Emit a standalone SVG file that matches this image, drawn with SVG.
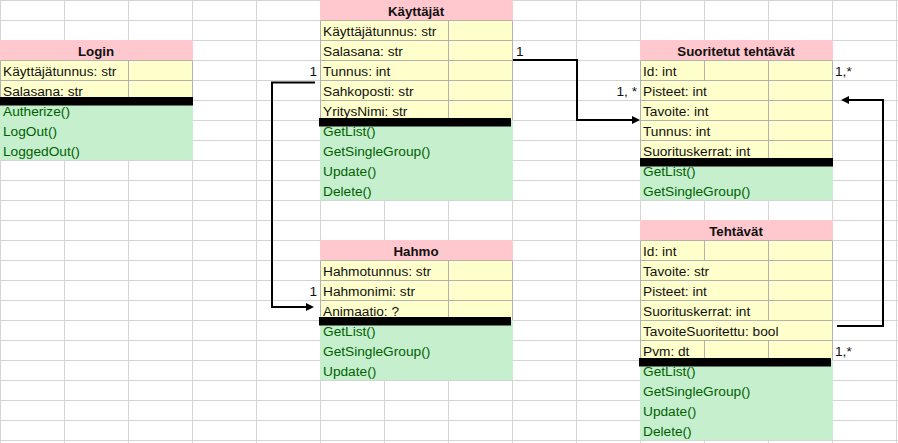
<svg xmlns="http://www.w3.org/2000/svg" width="898" height="443" viewBox="0 0 898 443">
<defs>
<style>
.grid{stroke:#d4d4d4;stroke-width:1;fill:none}
.hdr{fill:#ffc7ce}
.attr{fill:#ffffcc}
.cellb{stroke:#b2b2b2;stroke-width:1;fill:none}
.meth{fill:#c6efce}
.bar{fill:#000}
text{font-family:"Liberation Sans",Arial,sans-serif;font-size:13.7px}
.t{font-weight:bold;font-size:13.3px;text-anchor:middle;fill:#111}
.a{fill:#111}
.m{fill:#006100}
.lbl{fill:#111}
.r{text-anchor:end}
.conn{stroke:#000;stroke-width:2;fill:none;stroke-linejoin:miter}
</style>
<marker id="arr" markerWidth="8" markerHeight="8" refX="2" refY="4" orient="auto" markerUnits="userSpaceOnUse"><path d="M0,0 L8,4 L0,8 z" fill="#000"/></marker>
</defs>
<rect x="0" y="0" width="898" height="443" fill="#fff"/>
<path class="grid" d="M0.5 0V443M64.5 0V443M128.5 0V443M192.5 0V443M256.5 0V443M320.5 0V443M384.5 0V443M448.5 0V443M512.5 0V443M576.5 0V443M640.5 0V443M704.5 0V443M768.5 0V443M832.5 0V443M896.5 0V443M0 0.5H898M0 20.5H898M0 40.5H898M0 60.5H898M0 80.5H898M0 100.5H898M0 120.5H898M0 140.5H898M0 160.5H898M0 180.5H898M0 200.5H898M0 220.5H898M0 240.5H898M0 260.5H898M0 280.5H898M0 300.5H898M0 320.5H898M0 340.5H898M0 360.5H898M0 380.5H898M0 400.5H898M0 420.5H898M0 440.5H898"/>

<g id="login">
<rect class="hdr" x="0" y="40" width="193" height="20"/>
<rect class="attr" x="0" y="60" width="193" height="40"/>
<path class="cellb" d="M0.5 60.5H192.5V100.5H0.5ZM0.5 80.5H192.5M128.5 60.5V100.5"/>
<rect class="meth" x="0" y="100" width="193" height="60"/>
<text class="t" x="96" y="55.5">Login</text>
<text class="a" x="3" y="75.5">Käyttäjätunnus: str</text>
<text class="a" x="3" y="95.5">Salasana: str</text>
<rect class="bar" x="0" y="97" width="193" height="8.5"/>
<text class="m" x="3" y="115.5">Autherize()</text>
<text class="m" x="3" y="135.5">LogOut()</text>
<text class="m" x="3" y="155.5">LoggedOut()</text>
</g>

<g id="kayttajat">
<rect class="hdr" x="320" y="0" width="193" height="20"/>
<rect class="attr" x="320" y="20" width="193" height="100"/>
<path class="cellb" d="M320.5 20.5H512.5V120.5H320.5ZM320.5 40.5H512.5M320.5 60.5H512.5M320.5 80.5H512.5M320.5 100.5H512.5M448.5 20.5V120.5"/>
<rect class="meth" x="320" y="120" width="193" height="80"/>
<text class="t" x="416" y="15.5">Käyttäjät</text>
<text class="a" x="323" y="35.5">Käyttäjätunnus: str</text>
<text class="a" x="323" y="55.5">Salasana: str</text>
<text class="a" x="323" y="75.5">Tunnus: int</text>
<text class="a" x="323" y="95.5">Sahkoposti: str</text>
<text class="a" x="323" y="115.5">YritysNimi: str</text>
<rect class="bar" x="319" y="118" width="192" height="8.5"/>
<text class="m" x="323" y="135.5">GetList()</text>
<text class="m" x="323" y="155.5">GetSingleGroup()</text>
<text class="m" x="323" y="175.5">Update()</text>
<text class="m" x="323" y="195.5">Delete()</text>
</g>

<g id="hahmo">
<rect class="hdr" x="320" y="240" width="193" height="20"/>
<rect class="attr" x="320" y="260" width="193" height="60"/>
<path class="cellb" d="M320.5 260.5H512.5V320.5H320.5ZM320.5 280.5H512.5M320.5 300.5H512.5M448.5 260.5V320.5"/>
<rect class="meth" x="320" y="320" width="193" height="60"/>
<text class="t" x="416" y="255.5">Hahmo</text>
<text class="a" x="323" y="275.5">Hahmotunnus: str</text>
<text class="a" x="323" y="295.5">Hahmonimi: str</text>
<text class="a" x="323" y="315.5">Animaatio: ?</text>
<rect class="bar" x="319" y="317" width="192" height="8.5"/>
<text class="m" x="323" y="335.5">GetList()</text>
<text class="m" x="323" y="355.5">GetSingleGroup()</text>
<text class="m" x="323" y="375.5">Update()</text>
</g>

<g id="suoritetut">
<rect class="hdr" x="640" y="40" width="193" height="20"/>
<rect class="attr" x="640" y="60" width="193" height="100"/>
<path class="cellb" d="M640.5 60.5H832.5V160.5H640.5ZM640.5 80.5H832.5M640.5 100.5H832.5M640.5 120.5H832.5M640.5 140.5H832.5M704.5 60.5V80.5M768.5 60.5V160.5"/>
<rect class="meth" x="640" y="160" width="193" height="40"/>
<text class="t" x="736" y="55.5">Suoritetut tehtävät</text>
<text class="a" x="643" y="75.5">Id: int</text>
<text class="a" x="643" y="95.5">Pisteet: int</text>
<text class="a" x="643" y="115.5">Tavoite: int</text>
<text class="a" x="643" y="135.5">Tunnus: int</text>
<text class="a" x="643" y="155.5">Suorituskerrat: int</text>
<rect class="bar" x="640" y="158" width="193" height="8.5"/>
<text class="m" x="643" y="175.5">GetList()</text>
<text class="m" x="643" y="195.5">GetSingleGroup()</text>
</g>

<g id="tehtavat">
<rect class="hdr" x="640" y="220" width="193" height="20"/>
<rect class="attr" x="640" y="240" width="193" height="120"/>
<path class="cellb" d="M640.5 240.5H832.5V360.5H640.5ZM640.5 260.5H832.5M640.5 280.5H832.5M640.5 300.5H832.5M640.5 320.5H832.5M640.5 340.5H832.5M704.5 240.5V260.5M768.5 240.5V320.5M704.5 340.5V360.5M768.5 340.5V360.5"/>
<rect class="meth" x="640" y="360" width="193" height="80"/>
<text class="t" x="736" y="235.5">Tehtävät</text>
<text class="a" x="643" y="255.5">Id: int</text>
<text class="a" x="643" y="275.5">Tavoite: str</text>
<text class="a" x="643" y="295.5">Pisteet: int</text>
<text class="a" x="643" y="315.5">Suorituskerrat: int</text>
<text class="a" x="643" y="335.5">TavoiteSuoritettu: bool</text>
<text class="a" x="643" y="355.5">Pvm: dt</text>
<rect class="bar" x="639" y="358" width="192" height="8.5"/>
<text class="m" x="643" y="375.5">GetList()</text>
<text class="m" x="643" y="395.5">GetSingleGroup()</text>
<text class="m" x="643" y="415.5">Update()</text>
<text class="m" x="643" y="435.5">Delete()</text>
</g>

<g id="connectors">
<path class="conn" d="M513 60H577V120H634" marker-end="url(#arr)"/>
<path class="conn" d="M315 82.5H272V307H308" marker-end="url(#arr)"/>
<path class="conn" d="M837 326H883V100H847" marker-end="url(#arr)"/>
<text class="lbl" x="516" y="55.5">1</text>
<text class="lbl r" x="317" y="75.5">1</text>
<text class="lbl r" x="317" y="295.5">1</text>
<text class="lbl r" x="637" y="95.5">1, *</text>
<text class="lbl" x="835" y="75.5">1,*</text>
<text class="lbl" x="835" y="355.5">1,*</text>
</g>
</svg>
